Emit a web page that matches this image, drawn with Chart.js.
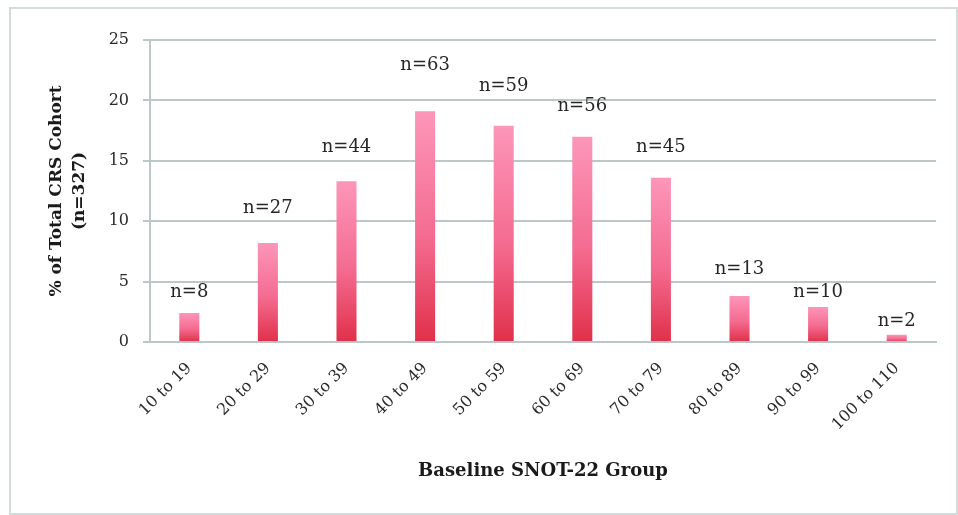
<!DOCTYPE html>
<html>
<head>
<meta charset="utf-8">
<title>Baseline SNOT-22 Group</title>
<script src="https://cdn.jsdelivr.net/npm/chart.js"></script>
<style>
  html, body { margin: 0; padding: 0; background: #fff; }
  #wrap { position: relative; width: 958px; height: 515px; }
  #frame { position: absolute; left: 9px; top: 7px; width: 945px; height: 504px;
           border: 2px solid #d3dbdb; pointer-events: none; }
</style>
</head>
<body>
<div id="wrap">
  <canvas id="snotChart" width="958" height="515"></canvas>
  <div id="frame"></div>
</div>
<script>
// --- Data ---
const groups = ['10 to 19', '20 to 29', '30 to 39', '40 to 49', '50 to 59',
                '60 to 69', '70 to 79', '80 to 89', '90 to 99', '100 to 110'];
const percentOfCohort = [2.4, 8.2, 13.3, 19.1, 17.9, 17.0, 13.6, 3.8, 2.9, 0.6];
const countLabels = ['n=8', 'n=27', 'n=44', 'n=63', 'n=59', 'n=56', 'n=45', 'n=13', 'n=10', 'n=2'];
// height (in % units) at which each count label sits in the original
const countLabelAt = [4.1, 11.1, 16.1, 22.9, 21.2, 19.5, 16.1, 6.0, 4.1, 1.7];
const yTicks = [0, 5, 10, 15, 20, 25];

const serif = '"DejaVu Serif", "Liberation Serif", serif';
const gridColor = '#bcc8c8';

// draws the n=.. text above each bar
const countLabelPlugin = {
    id: 'countLabels',
    afterDatasetsDraw(chart) {
        const { ctx, scales: { x, y } } = chart;
        ctx.save();
        ctx.font = '18px ' + serif;
        ctx.fillStyle = '#262626';
        ctx.textAlign = 'center';
        ctx.textBaseline = 'middle';
        countLabels.forEach((txt, i) => {
            ctx.fillText(txt, x.getPixelForValue(i), y.getPixelForValue(countLabelAt[i]));
        });
        ctx.restore();
    }
};

function barGradient(context) {
    const chart = context.chart;
    if (!chart.chartArea) return '#ef5a7a';
    const y = chart.scales.y;
    const top = y.getPixelForValue(context.raw);
    const bottom = y.getPixelForValue(0);
    const g = chart.ctx.createLinearGradient(0, top, 0, bottom);
    g.addColorStop(0, '#fc96b9');
    g.addColorStop(0.55, '#f46b90');
    g.addColorStop(1, '#e0304a');
    return g;
}

new Chart(document.getElementById('snotChart'), {
    type: 'bar',
    data: {
        labels: groups,
        datasets: [{
            data: percentOfCohort,
            backgroundColor: barGradient,
            borderWidth: 0,
            barPercentage: 0.255,
            categoryPercentage: 1.0
        }]
    },
    plugins: [countLabelPlugin],
    options: {
        responsive: false,
        animation: false,
        layout: { padding: { left: 46, right: 22, top: 40, bottom: 33 } },
        plugins: {
            legend: { display: false },
            tooltip: { enabled: false }
        },
        scales: {
            x: {
                grid: { display: false },
                border: { display: true, color: gridColor, width: 2 },
                ticks: {
                    color: '#2a2a2a',
                    font: { family: serif, size: 16 },
                    maxRotation: 45,
                    minRotation: 45,
                    padding: 9
                },
                title: {
                    display: true,
                    text: 'Baseline SNOT-22 Group',
                    color: '#1a1a1a',
                    font: { family: serif, size: 18, weight: 'bold' },
                    padding: { top: 10, bottom: 0 }
                },
                afterFit(axis) { axis.height = 140; }
            },
            y: {
                min: 0,
                max: 25,
                afterBuildTicks(axis) { axis.ticks = yTicks.map(v => ({ value: v })); },
                grid: { color: gridColor, lineWidth: 2, tickLength: 7 },
                border: { display: true, color: gridColor, width: 2 },
                ticks: {
                    color: '#2a2a2a',
                    font: { family: serif, size: 16 },
                    padding: 14
                },
                title: {
                    display: true,
                    text: ['% of Total CRS Cohort', '(n=327)'],
                    color: '#1a1a1a',
                    font: { family: serif, size: 17, weight: 'bold', lineHeight: 1.3 },
                    padding: { top: 0, bottom: 10 }
                },
                afterFit(axis) { axis.width = 104; }
            }
        }
    }
});
</script>
</body>
</html>
